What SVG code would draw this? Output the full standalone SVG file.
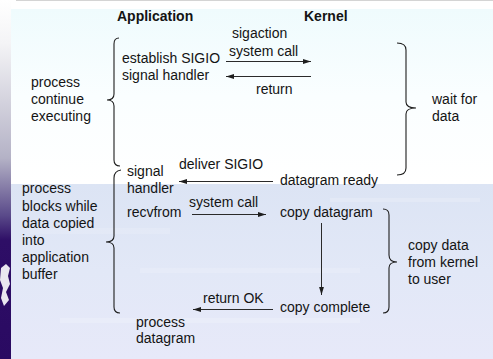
<svg xmlns="http://www.w3.org/2000/svg" width="493" height="359" viewBox="0 0 493 359">
  <style>
    text { font-family: "Liberation Sans", Arial, sans-serif; font-size: 14px; fill: #141414; }
    .hdr { font-weight: bold; }
    .edge { stroke: #2a2a2a; stroke-width: 1; fill: none; }
    .brace { stroke: #1e1e1e; stroke-width: 1.1; fill: none; }
  </style>
  <defs>
    <marker id="arrow" viewBox="0 0 8 6" refX="8" refY="3" markerWidth="8" markerHeight="6" markerUnits="userSpaceOnUse" orient="auto">
      <path d="M0,0.6 L8,3 L0,5.4 Z" fill="#1e1e1e"/>
    </marker>
    <linearGradient id="topPanel" x1="0" y1="0" x2="0" y2="1">
      <stop offset="0" stop-color="#effbfd"/>
      <stop offset="0.5" stop-color="#fafeff"/>
      <stop offset="1" stop-color="#ffffff"/>
    </linearGradient>
    <linearGradient id="lowPanel" x1="0" y1="0" x2="0" y2="1">
      <stop offset="0" stop-color="#dce4f4"/>
      <stop offset="0.5" stop-color="#e2e8f7"/>
      <stop offset="1" stop-color="#e7e9f9"/>
    </linearGradient>
    <linearGradient id="strip" x1="0" y1="0" x2="0" y2="1">
      <stop offset="0" stop-color="#ffffff"/>
      <stop offset="0.12" stop-color="#f4f4f6"/>
      <stop offset="0.44" stop-color="#b4b2c6"/>
      <stop offset="0.6" stop-color="#5a4a8a"/>
      <stop offset="0.67" stop-color="#2e0e66"/>
      <stop offset="1" stop-color="#2a0a62"/>
    </linearGradient>
  </defs>

  <!-- slide background -->
  <g id="background">
    <rect x="0" y="0" width="493" height="359" fill="#ffffff"/>
    <rect x="0" y="0" width="11" height="359" fill="url(#strip)"/>
    <line x1="16" y1="0.5" x2="493" y2="0.5" stroke="#d4d4d4" stroke-width="1"/>
    <rect x="11" y="9" width="482" height="175" fill="url(#topPanel)"/>
    <rect x="11" y="184" width="482" height="175" fill="url(#lowPanel)"/>
    <rect x="30" y="228" width="140" height="6" fill="#ffffff" opacity="0.15"/>
    <rect x="140" y="268" width="220" height="5" fill="#ffffff" opacity="0.15"/>
    <rect x="60" y="318" width="300" height="5" fill="#ffffff" opacity="0.18"/>
    <rect x="330" y="198" width="150" height="4" fill="#ffffff" opacity="0.18"/>
    <path d="M1,268 L6,264 L10,268 L8,276 L10,284 L6,292 L9,300 L4,306 L1,298 L3,288 L0,280 Z" fill="#ffffff" opacity="0.9"/>
  </g>

  <!-- connectors -->
  <g id="connectors">
    <line class="edge" x1="226" y1="61.5" x2="311" y2="61.5" marker-end="url(#arrow)"/>
    <line class="edge" x1="311" y1="76.5" x2="226" y2="76.5" marker-end="url(#arrow)"/>
    <line class="edge" x1="273" y1="181.5" x2="179" y2="181.5" marker-end="url(#arrow)"/>
    <line class="edge" x1="192" y1="214.5" x2="266" y2="214.5" marker-end="url(#arrow)"/>
    <line class="edge" x1="321.5" y1="223" x2="321.5" y2="295" marker-end="url(#arrow)"/>
    <line class="edge" x1="273" y1="309.5" x2="193" y2="309.5" marker-end="url(#arrow)"/>
  </g>

  <g id="header-application"><text class="hdr" x="117" y="21">Application</text></g>
  <g id="header-kernel"><text class="hdr" x="304" y="21">Kernel</text></g>

  <g id="process-continue">
    <path class="brace" d="M119,38 Q114,38 114,44 L114,94 Q114,100 107,100 Q114,100 114,106 L114,160 Q114,166 120,166"/>
    <text x="31" y="87">process</text>
    <text x="31" y="104">continue</text>
    <text x="31" y="121">executing</text>
  </g>

  <g id="establish-handler">
    <text x="122" y="63">establish SIGIO</text>
    <text x="122" y="80">signal handler</text>
  </g>

  <g id="sigaction-call">
    <text x="232" y="38">sigaction</text>
    <text x="229" y="56">system call</text>
  </g>

  <g id="sigaction-return"><text x="256" y="94">return</text></g>

  <g id="wait-for-data">
    <path class="brace" d="M397,43 Q406,43 406,50 L406,102 Q406,108 416,108 Q406,108 406,114 L406,168 Q406,175 397,175"/>
    <text x="432" y="104">wait for</text>
    <text x="432" y="121">data</text>
  </g>

  <g id="deliver-sigio"><text x="179" y="169">deliver SIGIO</text></g>
  <g id="datagram-ready"><text x="280" y="185">datagram ready</text></g>

  <g id="signal-handler">
    <text x="127" y="176">signal</text>
    <text x="127" y="193">handler</text>
  </g>

  <g id="recvfrom"><text x="127" y="217">recvfrom</text></g>
  <g id="recvfrom-call"><text x="189" y="207">system call</text></g>
  <g id="copy-datagram"><text x="280" y="217">copy datagram</text></g>

  <g id="process-blocks">
    <path class="brace" d="M121,170 Q114,171 114,178 L114,236 Q114,242 106,242 Q114,242 114,248 L114,307 Q114,313 120,313"/>
    <text x="22" y="193">process</text>
    <text x="22" y="210.5">blocks while</text>
    <text x="22" y="227.5">data copied</text>
    <text x="22" y="245">into</text>
    <text x="22" y="262">application</text>
    <text x="22" y="279">buffer</text>
  </g>

  <g id="copy-data">
    <path class="brace" d="M383,209 Q389,209 389,215 L389,255 Q389,262 397,262 Q389,262 389,268 L389,307 Q389,313 383,313"/>
    <text x="408" y="250">copy data</text>
    <text x="408" y="267">from kernel</text>
    <text x="408" y="284">to user</text>
  </g>

  <g id="copy-complete"><text x="280" y="312">copy complete</text></g>
  <g id="return-ok"><text x="203" y="303">return OK</text></g>

  <g id="process-datagram">
    <text x="136" y="327">process</text>
    <text x="136" y="343">datagram</text>
  </g>
</svg>
